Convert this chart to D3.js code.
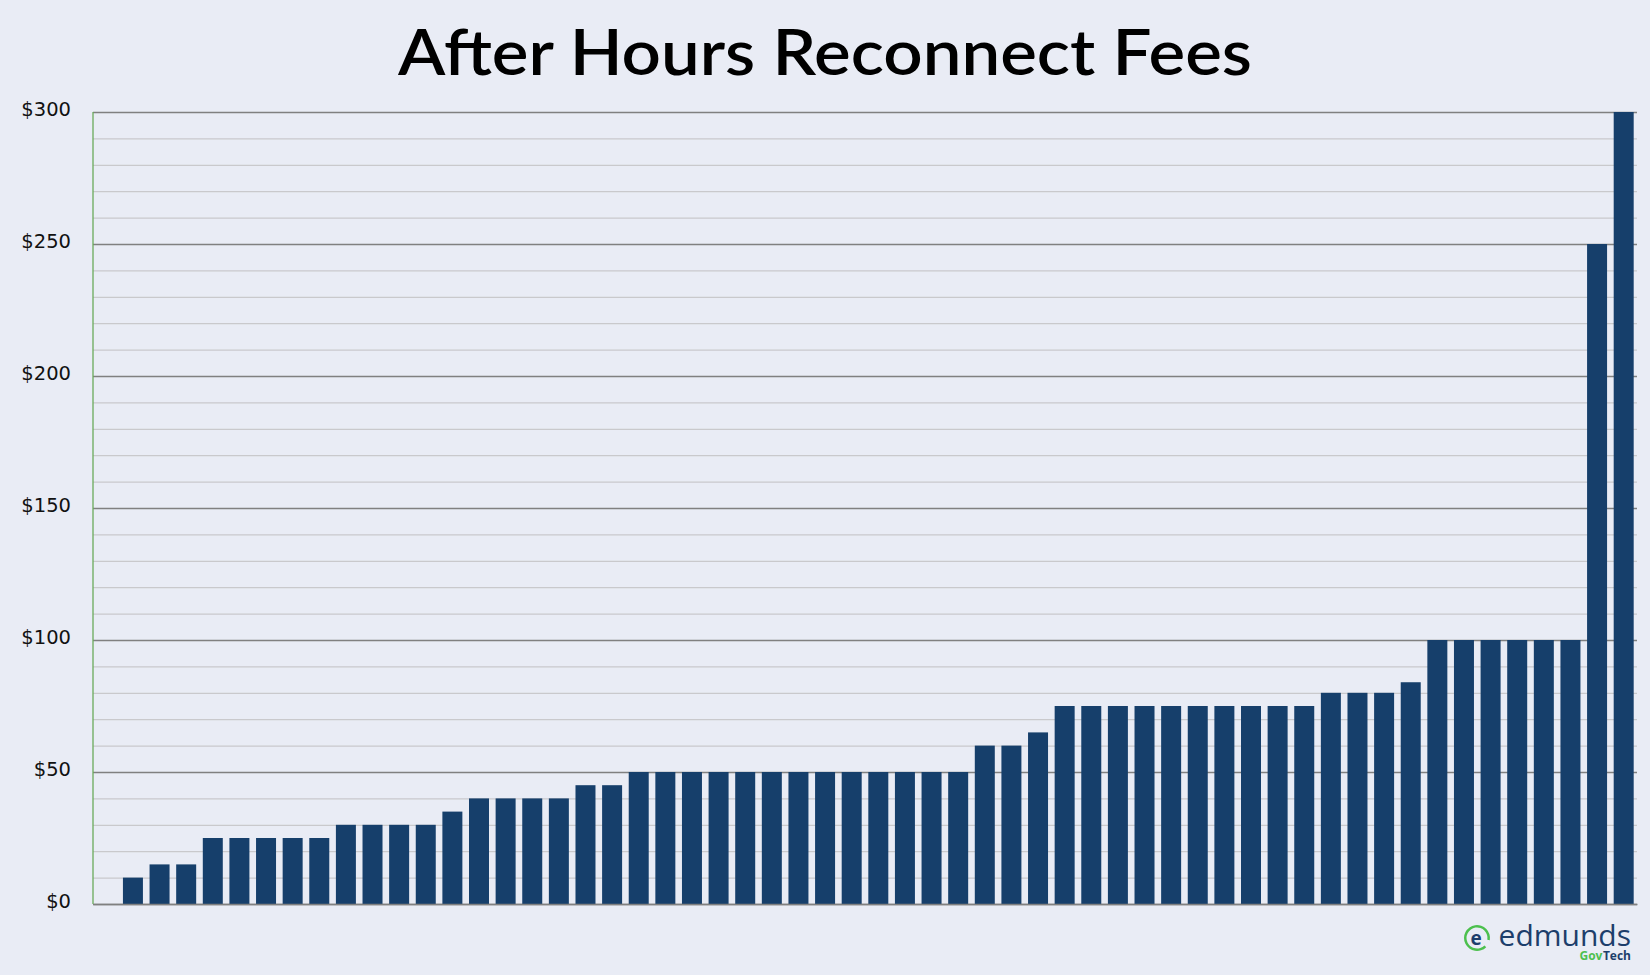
<!DOCTYPE html>
<html>
<head>
<meta charset="utf-8">
<script src="https://cdn.jsdelivr.net/npm/d3@7"></script>
<style>
  html, body { margin: 0; padding: 0; background: #e9ecf5; }
  svg { display: block; }
</style>
</head>
<body>
<svg id="chart" width="1650" height="975"></svg>
<script>
// ---- data ----
const title = "After Hours Reconnect Fees";
const categories = ["1","2","3","4","5","6","7","8","9","10","11","12","13","14","15","16","17","18","19","20",
  "21","22","23","24","25","26","27","28","29","30","31","32","33","34","35","36","37","38","39","40",
  "41","42","43","44","45","46","47","48","49","50","51","52","53","54","55","56","57"];
const fees = [10,15,15,25,25,25,25,25,30,30,30,30,35,40,40,40,40,45,45,
  50,50,50,50,50,50,50,50,50,50,50,50,50,60,60,65,
  75,75,75,75,75,75,75,75,75,75,80,80,80,84,
  100,100,100,100,100,100,250,300];
const majorTicks = [0,50,100,150,200,250,300];
const minorTicks = [10,20,30,40,60,70,80,90,110,120,130,140,160,170,180,190,210,220,230,240,260,270,280,290];

// ---- layout ----
(function () {
const svg = d3.select("#chart");
const W = 1650, H = 975;
const mLeft = 93, mRight = 1637, mTop = 112, mBottom = 904;

svg.append("rect").attr("width", W).attr("height", H).attr("fill", "#e9ecf5");

// leading empty slot as in the source chart
const x = d3.scaleBand()
  .domain([""].concat(categories))
  .range([mLeft, mRight])
  .paddingInner(0.249)
  .paddingOuter(0.1245);

const y = d3.scaleLinear().domain([0, 300]).range([mBottom, mTop]);

// minor gridlines
svg.append("g")
  .attr("transform", `translate(${mLeft},0)`)
  .call(d3.axisLeft(y).tickValues(minorTicks).tickSize(-(mRight - mLeft)).tickFormat(""))
  .call(g => g.select(".domain").remove())
  .call(g => g.selectAll("line").attr("stroke", "#c9c9cc").attr("stroke-width", 1.3));

// major gridlines + labels
svg.append("g")
  .attr("transform", `translate(${mLeft},0)`)
  .call(d3.axisLeft(y).tickValues(majorTicks).tickSize(-(mRight - mLeft)).tickPadding(22)
    .tickFormat(d => "$" + d))
  .call(g => g.select(".domain").remove())
  .call(g => g.selectAll("line").attr("stroke", "#808080").attr("stroke-width", 1.3))
  .call(g => g.selectAll("text")
    .attr("font-family", "DejaVu Sans, Verdana, sans-serif")
    .attr("font-size", 19.5)
    .attr("fill", "#111")
    .attr("dy", "0.2em"));

// bars
svg.append("g")
  .selectAll("rect")
  .data(fees)
  .join("rect")
  .attr("x", (d, i) => x(categories[i]))
  .attr("width", x.bandwidth())
  .attr("y", d => y(d))
  .attr("height", d => y(0) - y(d))
  .attr("fill", "#163f6b");

// axes lines
svg.append("g")
  .attr("transform", `translate(0,${mBottom})`)
  .call(d3.axisBottom(x).tickSize(0).tickFormat(""))
  .call(g => g.select(".domain").attr("stroke", "#808080").attr("stroke-width", 1.5));

svg.append("line")
  .attr("x1", mLeft).attr("x2", mLeft).attr("y1", mTop).attr("y2", mBottom)
  .attr("stroke", "#6aab5a").attr("stroke-width", 1.3);

// title
svg.append("text")
  .attr("x", W / 2).attr("y", 75)
  .attr("text-anchor", "middle")
  .attr("font-family", "Lato, 'Open Sans', sans-serif")
  .attr("font-weight", 600)
  .attr("font-size", 64)
  .attr("fill", "#000")
  .attr("textLength", 854)
  .attr("lengthAdjust", "spacingAndGlyphs")
  .text(title);

// logo
const logo = svg.append("g");
logo.append("path")
  .attr("d", d3.arc()({innerRadius: 10.5, outerRadius: 13, startAngle: 2.35, endAngle: 2 * Math.PI + 1.75}))
  .attr("transform", "translate(1477,938)")
  .attr("fill", "#4cc04e");
logo.append("text")
  .attr("x", 1476).attr("y", 944.5)
  .attr("text-anchor", "middle")
  .attr("font-family", "'Open Sans', sans-serif")
  .attr("font-weight", 700)
  .attr("font-size", 19)
  .attr("fill", "#1d3e6b")
  .text("e");
logo.append("text")
  .attr("x", 1631).attr("y", 946)
  .attr("text-anchor", "end")
  .attr("font-family", "'Open Sans', sans-serif")
  .attr("font-size", 30)
  .attr("fill", "#1d3e6b")
  .text("edmunds");
const tech = logo.append("text")
  .attr("x", 1631).attr("y", 960)
  .attr("text-anchor", "end")
  .attr("font-family", "'Open Sans', sans-serif")
  .attr("font-weight", 700)
  .attr("font-size", 12)
  .attr("fill", "#1d3e6b")
  .text("Tech");
const techW = tech.node().getComputedTextLength();
logo.append("text")
  .attr("x", 1631 - techW - 0.5).attr("y", 960)
  .attr("text-anchor", "end")
  .attr("font-family", "'Open Sans', sans-serif")
  .attr("font-weight", 700)
  .attr("font-size", 12)
  .attr("fill", "#4cc04e")
  .text("Gov");
})();
</script>
</body>
</html>
